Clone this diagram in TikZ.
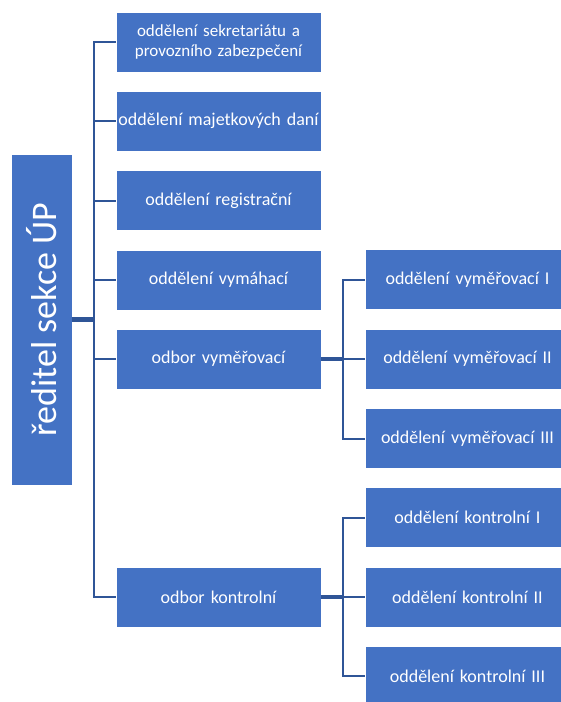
\documentclass[tikz,border=0pt]{standalone}
\usepackage{fontspec}
\setmainfont{Carlito}
\definecolor{boxblue}{HTML}{4472C4}
\definecolor{lineblue}{HTML}{2F5597}
\begin{document}
\begin{tikzpicture}[x=1pt,y=-1pt,
  box/.style={rectangle, fill=boxblue, draw=white, line width=0.8pt,
    minimum width=205pt, minimum height=60pt, text width=204pt,
    align=center, text=white, inner sep=0pt,
    font=\fontsize{18}{21}\selectfont},
  smalltext/.style={font=\fontsize{17}{19.5}\selectfont},
  rootbox/.style={rectangle, fill=boxblue, draw=white, line width=0.8pt,
    minimum width=331pt, minimum height=61pt, text=white, inner sep=0pt,
    rotate=90, font=\fontsize{36}{40}\selectfont},
  conn/.style={draw=lineblue, line width=2pt},
  trunk/.style={draw=lineblue, line width=5pt},
  subtrunk/.style={draw=lineblue, line width=4pt}]
\clip (0,0) rectangle (561,702);
\fill[white] (0,0) rectangle (561,702);

\node[rootbox] (root) at (41.5,319.5) {ředitel sekce ÚP};

\node[box, smalltext] (a1) at (218.5,42) {oddělení sekretariátu a\\provozního zabezpečení};
\node[box] (a2) at (218.5,121) {oddělení majetkových daní};
\node[box] (a3) at (218.5,200.5) {oddělení registrační};
\node[box] (a4) at (218.5,280) {oddělení vymáhací};
\node[box] (a5) at (218.5,359) {odbor vyměřovací};
\node[box] (a6) at (218.5,597) {odbor kontrolní};

\node[box] (v1) at (467.5,279.5) {oddělení vyměřovací I};
\node[box] (v2) at (467.5,359) {oddělení vyměřovací II};
\node[box] (v3) at (467.5,438.5) {oddělení vyměřovací III};

\node[box] (k1) at (467.5,517.5) {oddělení kontrolní I};
\node[box] (k2) at (467.5,597) {oddělení kontrolní II};
\node[box] (k3) at (467.5,676) {oddělení kontrolní III};

\coordinate (s) at (94,321);
\coordinate (sv) at (343,359);
\coordinate (sk) at (343,597);

\foreach \c in {a1,a2,a3,a4,a5,a6} \draw[conn] (s) |- (\c.west);
\draw[trunk] (root.south) -- (root.south -| s);

\foreach \c in {v1,v2,v3} \draw[conn] (sv) |- (\c.west);
\draw[subtrunk] (a5.east) -- (sv);

\foreach \c in {k1,k2,k3} \draw[conn] (sk) |- (\c.west);
\draw[subtrunk] (a6.east) -- (sk);
\end{tikzpicture}
\end{document}
